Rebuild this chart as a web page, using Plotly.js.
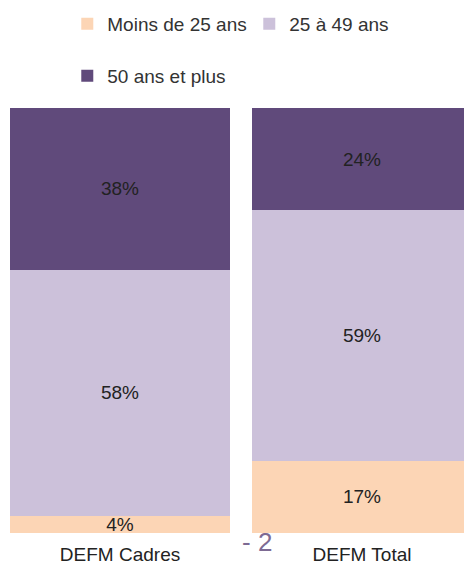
<!DOCTYPE html>
<html><head><meta charset="utf-8">
<script src="https://cdn.plot.ly/plotly-3.0.1.min.js"></script>
<style>html,body{margin:0;padding:0;background:#fff}#c{width:464px;height:564px}</style>
</head><body><div id="c"></div>
<script>
const categories = ["DEFM Cadres", "DEFM Total"];
const seriesNames = ["Moins de 25 ans", "25 à 49 ans", "50 ans et plus"];
const under25 = [4, 17];
const age25to49 = [58, 59];
const over50 = [38, 24];
const colors = ["#FCD5B5", "#CCC1DA", "#604A7B"];
const values = [under25, age25to49, over50];

const traces = values.map((v, i) => ({
  type: "bar",
  name: seriesNames[i],
  x: categories,
  y: v,
  text: v.map(n => n + "%"),
  textposition: "inside",
  insidetextanchor: "middle",
  constraintext: "none",
  cliponaxis: false,
  textfont: {family: "Liberation Sans, Arial, sans-serif", size: 19, color: "#222"},
  marker: {color: colors[i], line: {width: 0}},
  width: 0.909,
  legend: i === 2 ? "legend2" : "legend",
  hoverinfo: "skip"
}));

const legendFont = {family: "Liberation Sans, Arial, sans-serif", size: 19, color: "#333"};
const layout = {
  width: 464, height: 564,
  margin: {l: 0, r: 0, t: 108, b: 31},
  barmode: "stack",
  paper_bgcolor: "#fff", plot_bgcolor: "#fff",
  showlegend: true,
  legend: {orientation: "h", xref: "container", yref: "container", x: 0.145, xanchor: "left",
           y: 1 - 24/564, yanchor: "middle", font: legendFont, bgcolor: "rgba(0,0,0,0)",
           entrywidth: 137, entrywidthmode: "pixels", traceorder: "normal", itemclick: false},
  legend2: {orientation: "h", xref: "container", yref: "container", x: 0.145, xanchor: "left",
           y: 1 - 76/564, yanchor: "middle", font: legendFont, bgcolor: "rgba(0,0,0,0)", itemclick: false},
  xaxis: {type: "category", range: [-0.496, 1.4215], showgrid: false, showline: false, zeroline: false,
          ticks: "", ticklabelstandoff: 8,
          tickfont: {family: "Liberation Sans, Arial, sans-serif", size: 19, color: "#222"}},
  yaxis: {range: [0, 100], visible: false, showgrid: false, zeroline: false},
  uniformtext: {mode: false},
  annotations: [{
    text: "- 2", xref: "paper", yref: "paper", x: 257/464, y: -(542-533)/425,
    xanchor: "center", yanchor: "middle", showarrow: false,
    font: {family: "Liberation Sans, Arial, sans-serif", size: 26, color: "#7D6A93"}
  }]
};
Plotly.newPlot("c", traces, layout, {staticPlot: true, displayModeBar: false});
</script></body></html>
